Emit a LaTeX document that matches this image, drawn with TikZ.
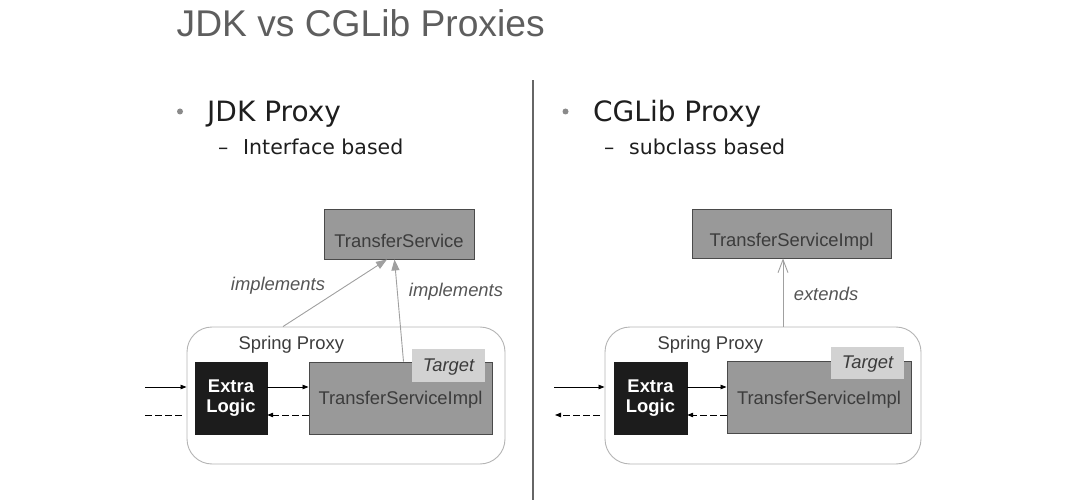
\documentclass[tikz,border=0pt]{standalone}
\usepackage{fontspec}
\setmainfont{Liberation Sans}
\newfontfamily\bulfont{DejaVu Sans}
\usetikzlibrary{arrows.meta,calc}
\definecolor{boxgray}{HTML}{999999}
\definecolor{boxedge}{HTML}{4A4A4A}
\definecolor{boxtext}{HTML}{3C3C3C}
\definecolor{tgtfill}{HTML}{D2D2D2}
\definecolor{xlfill}{HTML}{1C1C1C}
\definecolor{proxyedge}{HTML}{B4B4B4}
\definecolor{relgray}{HTML}{A0A0A0}
\definecolor{lbltext}{HTML}{555555}
\definecolor{titlegray}{HTML}{5E5E5E}
\definecolor{bultext}{HTML}{1E1E1E}
\definecolor{bulgray}{HTML}{8A8A8A}
\definecolor{divgray}{HTML}{666666}
\tikzset{
  graybox/.style={draw=boxedge, line width=0.9pt, fill=boxgray, inner sep=0pt},
  boxlbl/.style={text=boxtext, font=\fontsize{18.4}{21}\selectfont, inner sep=0pt},
  proxybox/.style={draw=proxyedge, line width=0.9pt, fill=white, rounded corners=25pt, inner sep=0pt},
  xlbox/.style={fill=xlfill, draw=xlfill, inner sep=0pt, text=white, align=center,
    font=\bfseries\fontsize{18.4}{20.5}\selectfont},
  tgtbox/.style={fill=tgtfill, inner sep=0pt, text=boxtext, text depth=0pt,
    font=\itshape\fontsize{18.4}{21}\selectfont},
  rellbl/.style={text=lbltext, font=\itshape\fontsize{18.4}{21}\selectfont, inner sep=0pt, anchor=base},
  relarr/.style={draw=relgray, line width=0.9pt, -{Triangle[length=11pt,width=8pt]}},
  extarr/.style={draw=relgray, line width=0.9pt, -{Straight Barb[length=13pt,width=10pt]}},
  callarr/.style={draw=black, line width=0.8pt, -{Triangle[length=6pt,width=4.5pt]}},
  retarr/.style={draw=black, line width=0.8pt, dash pattern=on 7pt off 3pt, -{Triangle[length=6pt,width=4.5pt]}},
  retline/.style={draw=black, line width=0.8pt, dash pattern=on 7pt off 3pt},
  bulmain/.style={text=bultext, font=\bulfont\fontsize{28}{30}\selectfont, inner sep=0pt, anchor=base west},
  bulsub/.style={text=bultext, font=\bulfont\fontsize{20.5}{24}\selectfont, inner sep=0pt, anchor=base west},
  buldot/.style={fill=bulgray, circle, inner sep=0pt, minimum size=6pt},
}
\begin{document}
\begin{tikzpicture}[x=1pt,y=-1pt]
\useasboundingbox (0,0) rectangle (1080,500);

% title
\node[text=titlegray, font=\fontsize{37.2}{40}\selectfont, inner sep=0pt, anchor=base west] (title) at (176.5,37) {JDK vs CGLib Proxies};

% divider
\coordinate (divtop) at (532.7,80.5);
\coordinate (divbot) at (532.7,500);
\draw[divgray, line width=1.8pt] (divtop) -- (divbot);

% bullets left
\node[buldot] (dotL) at (180,111.5) {};
\node[bulmain] (jdk) at (207,122) {JDK Proxy};
\node[bulsub] (dashL) at (218,155) {–};
\node[bulsub] (ifb) at (243,155) {Interface based};

% bullets right
\node[buldot] (dotR) at (565.5,111.5) {};
\node[bulmain] (cglib) at (593,122) {CGLib Proxy};
\node[bulsub] (dashR) at (604,155) {–};
\node[bulsub] (scb) at (629,155) {subclass based};

% ===== left diagram =====
\node[graybox, minimum width=150pt, minimum height=50pt] (ts) at (399,234) {};
\node[boxlbl, anchor=base] (tsl) at (399,247.5) {TransferService};

\node[proxybox, minimum width=318pt, minimum height=137pt] (spL) at (346,395.5) {};
\node[boxlbl, anchor=base west, text=boxtext] (spLl) at (238.5,349) {Spring Proxy};

\node[xlbox, minimum width=72pt, minimum height=72pt] (xlL) at (231,398) {Extra\\Logic};
\node[graybox, minimum width=183pt, minimum height=72pt, text=boxtext, text depth=0pt,
  font=\fontsize{18.4}{21}\selectfont] (implL) at (400.5,398) {TransferServiceImpl};
\node[tgtbox, minimum width=73pt, minimum height=33pt] (tgtL) at (448.5,365.5) {Target};

\draw[relarr] ([xshift=-63pt]spL.north) -- ([xshift=-12pt]ts.south);
\draw[relarr] ([xshift=3pt]implL.north) -- ([xshift=-4.5pt]ts.south);
\node[rellbl] (implLbl1) at (278,290.5) {implements};
\node[rellbl] (implLbl2) at (456,296) {implements};

\coordinate (inL) at (145,387);
\coordinate (outL) at (145,415);
\draw[callarr] (inL) -- (inL -| spL.west);
\draw[callarr] (xlL.east |- inL) -- (implL.west |- inL);
\draw[retarr] (implL.west |- outL) -- (xlL.east |- outL);
\draw[retline] ($(outL -| spL.west)+(-5,0)$) -- (outL);

% ===== right diagram =====
\node[graybox, minimum width=199pt, minimum height=49pt] (tsiR) at (791.5,233.5) {};
\node[boxlbl, anchor=base] (tsiRl) at (791.5,247) {TransferServiceImpl};

\node[proxybox, minimum width=316pt, minimum height=137pt] (spR) at (763,395.5) {};
\node[boxlbl, anchor=base west] (spRl) at (657.5,349) {Spring Proxy};

\node[xlbox, minimum width=73pt, minimum height=72pt] (xlR) at (650.5,398) {Extra\\Logic};
\node[graybox, minimum width=184pt, minimum height=72pt, text=boxtext, text depth=0pt,
  font=\fontsize{18.4}{21}\selectfont] (implR) at (819,397.5) {TransferServiceImpl};
\node[tgtbox, minimum width=73pt, minimum height=32pt] (tgtR) at (867.5,362.5) {Target};

\draw[extarr] ([xshift=20pt]spR.north) -- ([xshift=-8.5pt]tsiR.south);
\node[rellbl] (extLbl) at (826,300) {extends};

\coordinate (inR) at (554,387);
\coordinate (outR) at (555,415);
\draw[callarr] (inR) -- (inR -| spR.west);
\draw[callarr] (xlR.east |- inR) -- (implR.west |- inR);
\draw[retarr] (implR.west |- outR) -- (xlR.east |- outR);
\draw[retarr] ($(outR -| spR.west)+(-5,0)$) -- (outR);
\end{tikzpicture}
\end{document}
